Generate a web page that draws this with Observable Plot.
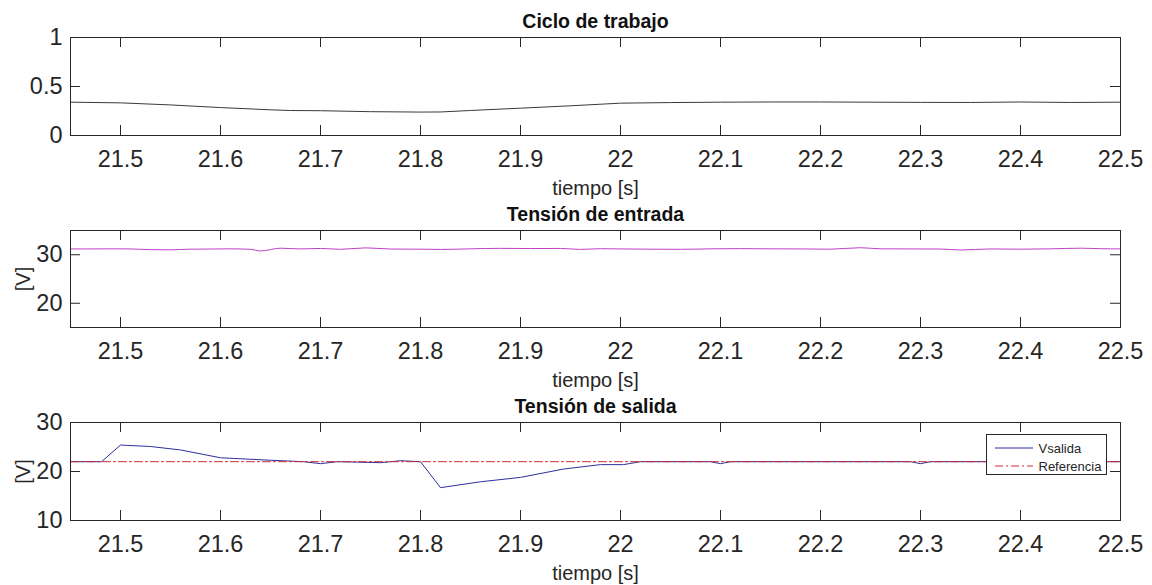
<!DOCTYPE html>
<html>
<head>
<meta charset="utf-8">
<script src="https://cdn.jsdelivr.net/npm/d3@7"></script>
<script src="https://cdn.jsdelivr.net/npm/@observablehq/plot@0.6"></script>
<style>
  html, body { margin: 0; padding: 0; background: #fff; }
  #fig { width: 1152px; font-family: "Liberation Sans", Arial, sans-serif; }
  .panel { position: relative; height: 195px; }
  .panel > svg { position: relative; display: block; }
  .legend {
    position: absolute; left: 986px; top: 44px; width: 119px; height: 39px;
    border: 1px solid #262626; background: #fff;
  }
  .legend svg { display: block; }
</style>
</head>
<body>
<div id="fig"></div>
<script>
// Time axis (seconds)
const xDomain = [21.45, 22.5];
const xTicks = [21.5, 21.6, 21.7, 21.8, 21.9, 22.0, 22.1, 22.2, 22.3, 22.4, 22.5];
const xLabel = "tiempo [s]";

// Duty cycle
const tCiclo = [21.45, 21.50, 21.55, 21.60, 21.65, 21.67, 21.70, 21.75, 21.80, 21.82, 21.85, 21.90,
                21.95, 22.00, 22.05, 22.10, 22.15, 22.20, 22.25, 22.30, 22.35, 22.40, 22.45, 22.50];
const ciclo = [0.340, 0.333, 0.312, 0.285, 0.262, 0.255, 0.253, 0.243, 0.239, 0.240, 0.255, 0.279,
               0.303, 0.330, 0.336, 0.340, 0.342, 0.342, 0.340, 0.338, 0.337, 0.342, 0.337, 0.340];

// Input voltage
const tEntrada = [21.45, 21.47, 21.49, 21.51, 21.53, 21.55, 21.57, 21.59, 21.61, 21.63, 21.64, 21.66,
                  21.68, 21.70, 21.72, 21.745, 21.77, 21.80, 21.82, 21.85, 21.88, 21.91, 21.94, 21.96,
                  21.98, 22.00, 22.03, 22.06, 22.09, 22.12, 22.15, 22.18, 22.21, 22.24, 22.26, 22.29,
                  22.32, 22.34, 22.37, 22.40, 22.43, 22.46, 22.48, 22.50];
const vEntrada = [31.20, 31.20, 31.22, 31.20, 31.05, 31.02, 31.15, 31.18, 31.22, 31.12, 30.78, 31.35,
                  31.20, 31.30, 31.12, 31.42, 31.18, 31.15, 31.10, 31.22, 31.32, 31.28, 31.30, 31.10,
                  31.25, 31.20, 31.15, 31.12, 31.22, 31.26, 31.22, 31.20, 31.15, 31.45, 31.22, 31.20,
                  31.18, 30.98, 31.20, 31.15, 31.22, 31.35, 31.25, 31.20];

// Output voltage and its reference
const tSalida = [21.45, 21.481, 21.50, 21.53, 21.56, 21.60, 21.65, 21.683, 21.70, 21.717, 21.76, 21.78,
                 21.80, 21.82, 21.86, 21.90, 21.943, 21.98, 22.003, 22.02, 22.09, 22.10, 22.11, 22.29,
                 22.30, 22.31, 22.50];
const vSalida = [22.0, 22.0, 25.4, 25.1, 24.4, 22.8, 22.3, 22.0, 21.6, 22.0, 21.8, 22.2,
                 22.0, 16.7, 17.9, 18.8, 20.5, 21.4, 21.4, 22.0, 22.0, 21.6, 22.0, 22.0,
                 21.6, 22.0, 22.0];
const tReferencia = [21.45, 22.50];
const vReferencia = [22, 22];

const seriesNames = ["Vsalida", "Referencia"];
const seriesColors = ["#2f2fa0", "#d02a2a"];
const refDash = "8,3,2,3";

const axisColor = "#262626";
const fontFamily = "'Liberation Sans', Arial, sans-serif";

const zip = (ts, vs) => ts.map((t, i) => ({t, v: vs[i]}));

function panel({title, yDomain, yTicks, ylabel, marks, marginTop, marginBottom}) {
  const width = 1152, height = 195, marginLeft = 70, marginRight = 32;
  const innerH = height - marginTop - marginBottom;
  const innerW = width - marginLeft - marginRight;
  const tickLen = 10;
  return Plot.plot({
    width, height, marginTop, marginBottom, marginLeft, marginRight,
    style: {fontFamily, fontSize: "23px", color: axisColor, background: "transparent", overflow: "visible"},
    x: {domain: xDomain},
    y: {domain: yDomain},
    marks: [
      ...marks,
      Plot.frame({stroke: axisColor, strokeWidth: 1}),
      // inward ticks on all four sides of the box
      Plot.ruleX(xTicks, {x: d => d, insetTop: innerH - tickLen, stroke: axisColor}),
      Plot.ruleX(xTicks, {x: d => d, insetBottom: innerH - tickLen, stroke: axisColor}),
      Plot.ruleY(yTicks, {y: d => d, insetRight: innerW - tickLen, stroke: axisColor}),
      Plot.ruleY(yTicks, {y: d => d, insetLeft: innerW - tickLen, stroke: axisColor}),
      Plot.axisX(xTicks, {tickSize: 0, tickPadding: 15, fontSize: 23.5, label: null,
                          tickFormat: d => String(+d.toFixed(1))}),
      Plot.axisY(yTicks, {tickSize: 0, tickPadding: 8, fontSize: 23.5, label: null,
                          tickFormat: d => String(d)}),
      Plot.text([title], {text: d => d, frameAnchor: "top", lineAnchor: "middle", dy: -16,
                          fontWeight: "bold", fontSize: 19.5, fill: "#111"}),
      Plot.text([xLabel], {text: d => d, frameAnchor: "bottom", lineAnchor: "middle", dy: 53,
                           fontSize: 20, fill: axisColor}),
      ylabel ? Plot.text([ylabel], {text: d => d, frameAnchor: "left", lineAnchor: "middle",
                                    textAnchor: "middle", dx: -47, rotate: -90,
                                    fontSize: 20, fill: axisColor}) : null
    ]
  });
}

const fig = document.getElementById("fig");

function addPanel(chart) {
  const div = document.createElement("div");
  div.className = "panel";
  div.appendChild(chart);
  fig.appendChild(div);
  return div;
}

addPanel(panel({
  title: "Ciclo de trabajo",
  yDomain: [0, 1], yTicks: [0, 0.5, 1],
  marginTop: 37, marginBottom: 60,
  marks: [Plot.line(zip(tCiclo, ciclo), {x: "t", y: "v", stroke: "#3a3a3a", strokeWidth: 1})]
}));

addPanel(panel({
  title: "Tensión de entrada",
  yDomain: [15, 35], yTicks: [20, 30], ylabel: "[V]",
  marginTop: 35, marginBottom: 63,
  marks: [Plot.line(zip(tEntrada, vEntrada), {x: "t", y: "v", stroke: "#c040c8", strokeWidth: 1, curve: "monotone-x"})]
}));

const p3 = addPanel(panel({
  title: "Tensión de salida",
  yDomain: [10, 30], yTicks: [10, 20, 30], ylabel: "[V]",
  marginTop: 32, marginBottom: 65,
  marks: [
    Plot.line(zip(tSalida, vSalida), {x: "t", y: "v", stroke: seriesColors[0], strokeWidth: 1}),
    Plot.line(zip(tReferencia, vReferencia), {x: "t", y: "v", stroke: seriesColors[1], strokeWidth: 1,
                                              strokeDasharray: refDash})
  ]
}));

// Legend box inside the output-voltage axes
const legend = document.createElement("div");
legend.className = "legend";
const ls = d3.create("svg").attr("width", 119).attr("height", 39)
  .style("font-family", fontFamily).style("font-size", "13px");
seriesNames.forEach((name, i) => {
  const y = 13 + i * 18;
  ls.append("line").attr("x1", 8).attr("x2", 46).attr("y1", y).attr("y2", y)
    .attr("stroke", seriesColors[i]).attr("stroke-width", 1)
    .attr("stroke-dasharray", i === 1 ? refDash : null);
  ls.append("text").attr("x", 51.5).attr("y", y).attr("dy", "0.35em")
    .attr("fill", axisColor).text(name);
});
legend.appendChild(ls.node());
p3.appendChild(legend);
</script>
</body>
</html>
